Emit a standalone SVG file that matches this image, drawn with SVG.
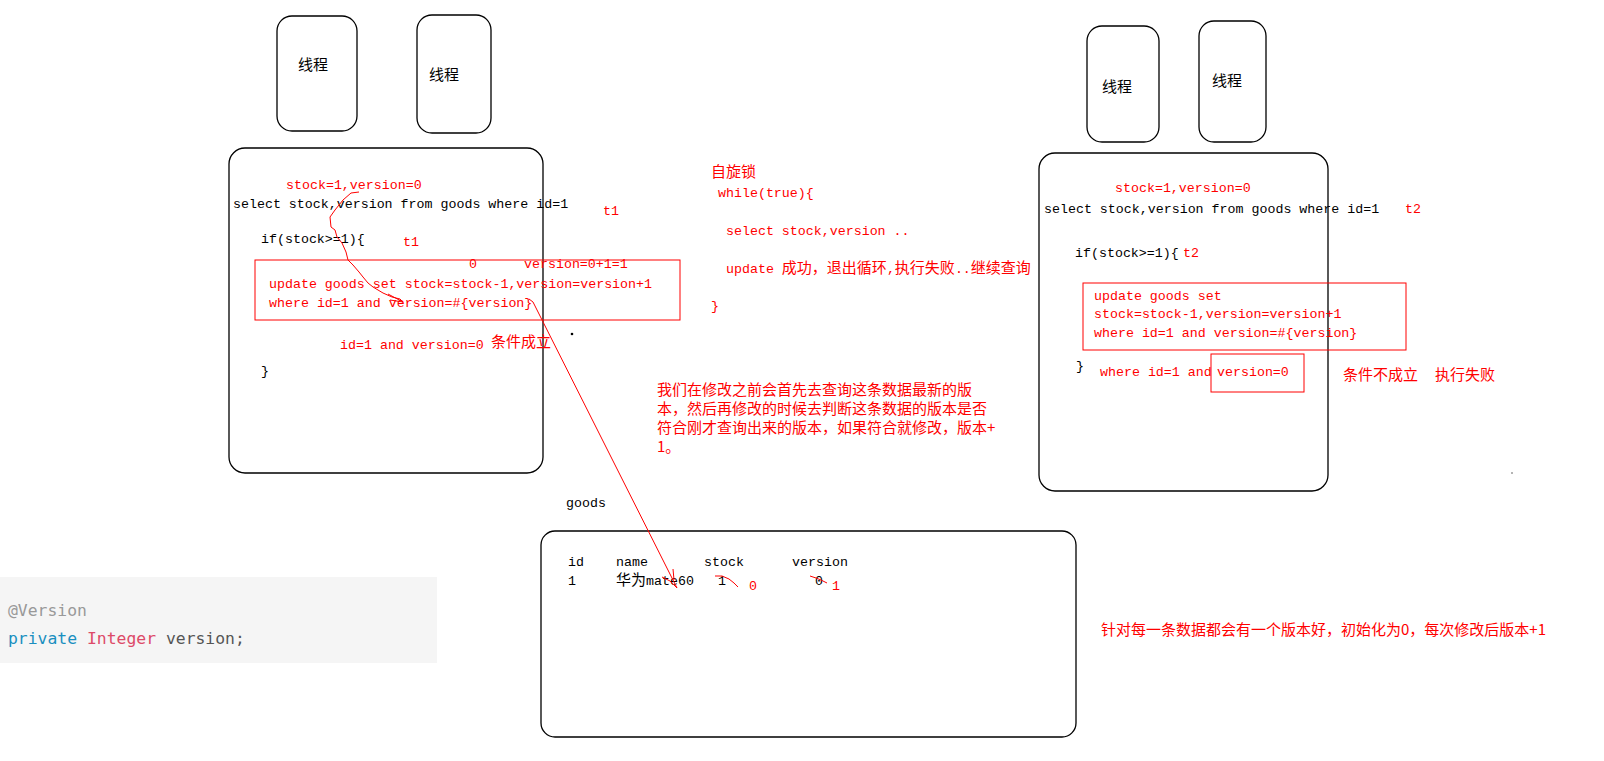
<svg xmlns="http://www.w3.org/2000/svg" width="1604" height="761" viewBox="0 0 1604 761">
<style>
.box{fill:none;stroke:#000;stroke-width:1.3}
.rbox{fill:none;stroke:#f00;stroke-width:1}
.code{font-family:"Liberation Mono","Noto Sans CJK SC",monospace;font-size:13.3px}
.cjk{font-family:"Noto Sans CJK SC","Liberation Sans",sans-serif;font-size:15px}
.red{fill:#f00}
.blk{fill:#000}
.rl{fill:none;stroke:#f00;stroke-width:1}
.jv{font-family:"DejaVu Sans Mono","Liberation Mono",monospace;font-size:16.4px}
</style>
<rect width="1604" height="761" fill="#fff"/>

<g id="thread1"><rect class="box" x="277" y="16" width="80" height="115" rx="15"/><text class="cjk blk" x="298" y="70">线程</text></g>
<g id="thread2"><rect class="box" x="417" y="15" width="74" height="118" rx="15"/><text class="cjk blk" x="429" y="80">线程</text></g>
<g id="thread3"><rect class="box" x="1087" y="26" width="72" height="116" rx="15"/><text class="cjk blk" x="1102" y="92">线程</text></g>
<g id="thread4"><rect class="box" x="1199" y="21" width="67" height="121" rx="15"/><text class="cjk blk" x="1212" y="86">线程</text></g>

<g id="leftBlock">
<rect class="box" x="229" y="148" width="314" height="325" rx="16"/>
<text class="code red" x="286" y="189">stock=1,version=0</text>
<text class="code blk" x="233" y="208">select stock,version from goods where id=1</text>
<text class="code red" x="603" y="215">t1</text>
<text class="code blk" x="261" y="243">if(stock&gt;=1){</text>
<text class="code red" x="403" y="246">t1</text>
<rect class="rbox" x="255" y="260" width="425" height="60"/>
<text class="code red" x="469" y="268">0</text>
<text class="code red" x="524" y="268">version=0+1=1</text>
<text class="code red" x="269" y="288">update goods set stock=stock-1,version=version+1</text>
<text class="code red" x="269" y="307">where id=1 and version=#{version}</text>
<text class="code red" x="340" y="349">id=1 and version=0</text>
<text class="cjk red" x="491" y="347">条件成立</text>
<text class="code blk" x="261" y="375">}</text>
<circle cx="572" cy="334" r="1.3" fill="#000"/>
</g>

<g id="spinLock">
<text class="cjk red" x="711" y="177">自旋锁</text>
<text class="code red" x="718" y="197">while(true){</text>
<text class="code red" x="726" y="235">select stock,version ..</text>
<text class="red" x="726" y="273"><tspan class="code">update </tspan><tspan class="cjk">成功，退出循环</tspan><tspan class="code">,</tspan><tspan class="cjk">执行失败</tspan><tspan class="code">..</tspan><tspan class="cjk">继续查询</tspan></text>
<text class="code red" x="711" y="310">}</text>
</g>

<g id="explain">
<text class="cjk red" x="657" y="395">我们在修改之前会首先去查询这条数据最新的版</text>
<text class="cjk red" x="657" y="414">本，然后再修改的时候去判断这条数据的版本是否</text>
<text class="cjk red" x="657" y="433">符合刚才查询出来的版本，如果符合就修改，版本+</text>
<text class="cjk red" x="657" y="452">1。</text>
</g>

<g id="rightBlock">
<rect class="box" x="1039" y="153" width="289" height="338" rx="16"/>
<text class="code red" x="1115" y="192">stock=1,version=0</text>
<text class="code blk" x="1044" y="213">select stock,version from goods where id=1</text>
<text class="code red" x="1405" y="213">t2</text>
<text class="code blk" x="1075" y="257">if(stock&gt;=1){</text>
<text class="code red" x="1183" y="257">t2</text>
<rect class="rbox" x="1083" y="283" width="323" height="67"/>
<text class="code red" x="1094" y="300">update goods set</text>
<text class="code red" x="1094" y="318">stock=stock-1,version=version+1</text>
<text class="code red" x="1094" y="337">where id=1 and version=#{version}</text>
<text class="code blk" x="1076" y="370">}</text>
<text class="code red" x="1100" y="376">where id=1 and</text>
<rect class="rbox" x="1211" y="354" width="93" height="38"/>
<text class="code red" x="1217" y="376">version=0</text>
<text class="cjk red" x="1343" y="380">条件不成立</text>
<text class="cjk red" x="1435" y="380">执行失败</text>
</g>
<circle cx="1512" cy="473" r="0.8" fill="#555"/>

<g id="goodsTable">
<text class="code blk" x="566" y="507">goods</text>
<rect class="box" x="541" y="531" width="535" height="206" rx="14"/>
<text class="code blk" x="568" y="566">id</text>
<text class="code blk" x="616" y="566">name</text>
<text class="code blk" x="704" y="566">stock</text>
<text class="code blk" x="792" y="566">version</text>
<text class="code blk" x="568" y="585">1</text>
<text class="blk" x="616" y="585"><tspan class="cjk">华为</tspan><tspan class="code">mate60</tspan></text>
<text class="code blk" x="718" y="585">1</text>
<text class="code blk" x="815" y="585">0</text>
<text class="code red" x="749" y="590">0</text>
<text class="code red" x="832" y="590">1</text>
</g>

<g id="note">
<text class="cjk red" x="1101" y="635">针对每一条数据都会有一个版本好，初始化为0，每次修改后版本+1</text>
</g>

<g id="codeSnippet">
<rect x="0" y="577" width="437" height="86" fill="#f5f5f5"/>
<text class="jv" x="8" y="616" fill="#999">@Version</text>
<text class="jv" x="8" y="644"><tspan fill="#1a8fc0">private</tspan><tspan fill="#555"> </tspan><tspan fill="#dd4a68">Integer</tspan><tspan fill="#555"> version;</tspan></text>
</g>

<g id="connectors">
<polyline class="rl" points="359,192 351,193 343,200 335,210 330,217 331,227 335,230 337,237 342,243 346,252 348,260 353,265 359,272 363,277 368,283 373,287 383,293 392,297 400,299 403,302"/>
<polyline class="rl" points="388,294 403,302 390,300"/>
<polyline class="rl" points="529,299 533,302 677,588"/>
<polyline class="rl" points="673,569 674,580"/>
<polyline class="rl" points="662,577 670,581 677,588"/>
<polyline class="rl" points="715,576 722,576 729,579 734,583 738,587"/>
<polyline class="rl" points="810,576 816,578 821,580 827,583"/>
</g>
</svg>
